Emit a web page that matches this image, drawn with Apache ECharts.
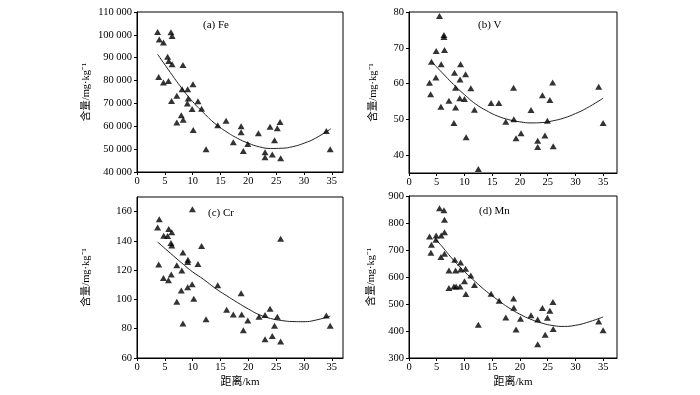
<!DOCTYPE html>
<html>
<head>
<meta charset="utf-8">
<script src="https://cdn.jsdelivr.net/npm/echarts@6/dist/echarts.min.js"></script>
<style>
html,body{margin:0;padding:0;background:#fff;}
#c{width:700px;height:395px;}
</style>
</head>
<body>
<div id="c"></div>
<script>
// ---- data ----
const xTicks = [0, 5, 10, 15, 20, 25, 30, 35];
const feTicks = [40000, 50000, 60000, 70000, 80000, 90000, 100000, 110000];
const vTicks = [40, 50, 60, 70, 80];
const crTicks = [60, 80, 100, 120, 140, 160];
const mnTicks = [300, 400, 500, 600, 700, 800, 900];

const panelLabels = ['(a) Fe', '(b) V', '(c) Cr', '(d) Mn'];
const yName = '含量/mg·kg⁻¹';
const xName = '距离/km';

const feX = [3.7,4.0,4.75,6.1,6.3,5.5,5.7,6.3,8.25,3.9,4.75,5.65,8.1,9.1,10.05,7.15,9.2,9.05,10.95,6.2,9.9,11.6,7.95,8.3,7.15,10.1,12.4,14.5,16.0,17.3,18.7,18.7,19.1,19.9,21.8,23.0,23.0,23.9,24.3,24.7,25.2,25.7,25.8,34.0,34.7];
const feY = [101250,98000,96700,101100,99500,90400,88600,87100,86800,81600,79200,79800,76200,76200,78400,73400,72200,70000,70900,71100,67600,67700,64800,62900,61700,58400,50000,60400,62400,53000,60000,57400,49200,52250,57000,48600,46400,59800,47700,53900,59100,61900,46000,57900,50000];
const feCurveX = [3.7,6,8,10,12,14,16,18,20,22,24,26,28,30,32,34.8];
const feCurveY = [91500,83500,76800,70800,65800,61200,57700,54800,52600,51000,50300,50400,51100,52600,54700,58900];

const vX = [5.5,6.3,6.3,4.9,6.4,4.05,5.8,9.3,8.2,10.2,4.85,9.2,3.7,8.4,11.15,3.9,7.2,9.15,10.0,5.75,8.4,11.8,14.8,16.2,8.1,17.45,18.9,18.85,10.3,19.3,12.5,20.2,22.0,23.2,23.2,24.05,24.5,24.95,25.4,25.9,26.0,34.2,35.0];
const vY = [78.9,73.6,73.0,69.1,69.4,66.1,65.4,65.4,63.0,62.6,61.7,61.1,60.2,58.8,58.7,57.0,55.2,55.9,55.7,53.5,53.3,52.7,54.6,54.6,49.0,49.3,50.0,58.8,45.0,44.7,36.1,46.1,52.6,44.0,42.3,56.7,45.5,49.6,55.4,60.3,42.5,59.1,49.0];
const vCurveX = [4.05,6,8,10,12,14,16,18,20,22,24,26,28,30,32,35];
const vCurveY = [66.1,63.0,59.8,56.9,54.3,52.4,50.9,49.9,49.3,49.0,49.1,49.6,50.4,51.6,53.1,55.9];

const crX = [9.95,4.0,3.7,5.7,6.25,4.8,5.5,6.1,6.25,11.6,8.25,9.15,9.1,3.9,7.15,10.95,8.05,6.15,4.75,5.65,9.9,14.5,9.1,7.95,10.2,18.7,7.15,16.1,17.3,18.8,23.9,23.0,21.9,25.2,19.9,12.4,8.25,24.7,19.1,24.3,23.0,25.8,25.8,34.0,34.7];
const crY = [161.6,154.8,149.1,148.2,146.0,143.5,143.3,138.5,136.9,136.5,132.1,127.2,125.6,123.8,123.3,124.2,119.7,117.0,114.7,113.1,110.4,109.7,108.3,106.1,100.4,104.2,98.4,93.0,89.8,89.8,93.6,89.3,88.2,88.2,85.7,86.4,83.6,82.1,78.9,75.0,72.8,71.2,141.4,89.1,82.1];
const crCurveX = [3.7,6,8,10,12,14,16,18,20,22,24,26,28,30,32,34.7];
const crCurveY = [139.2,131.6,125.0,118.8,113.6,107.8,102.8,98.0,93.5,89.5,87.0,85.6,84.9,84.8,85.8,88.6];

const mnX = [5.5,6.3,6.4,3.7,4.9,5.8,6.4,4.05,4.85,3.95,5.75,6.4,8.25,9.3,10.2,7.2,8.4,9.3,11.15,10.0,11.8,7.2,8.1,8.5,9.2,10.25,14.8,16.25,18.85,18.9,17.45,12.5,19.3,20.1,22.0,23.2,23.2,24.05,24.55,24.95,25.4,25.95,26.0,34.2,35.0];
const mnY = [855,847,812,750,754,754,766,719,738,690,674,686,664,654,631,624,624,628,606,584,570,559,565,565,565,537,538,512,520,486,450,423,406,445,458,443,351,485,386,449,475,507,407,435,403];
const mnCurveX = [4.85,6,8,10,12,14,16,18,20,22,24,26,28,30,32,35];
const mnCurveY = [738,712,663,620,582,546,515,486,462,443,429,420,417,421,431,452];

// ---- chart ----
const pair = (xs, ys) => xs.map((x, i) => [x, ys[i]]);
const serif = '"Liberation Serif", "Times New Roman", serif';
const nameFont = '"Liberation Serif", "Noto Sans CJK SC", serif';
const fmt = v => String(v).replace(/\B(?=(\d{3})+(?!\d))/g, ' ');

const grids = [
  {left: 137, top: 12, width: 206, height: 160},
  {left: 409, top: 12, width: 208, height: 161},
  {left: 137, top: 197, width: 206, height: 161},
  {left: 409, top: 196, width: 208, height: 162}
];
const xMax = [37, 37.5, 37, 37.5];
const yCfg = [
  {min: 40000, max: 110000, ticks: feTicks, gap: 46},
  {min: 35, max: 80, ticks: vTicks, gap: 31},
  {min: 60, max: 170, ticks: crTicks, gap: 46},
  {min: 300, max: 900, ticks: mnTicks, gap: 33}
];
const pts = [pair(feX, feY), pair(vX, vY), pair(crX, crY), pair(mnX, mnY)];
const curves = [pair(feCurveX, feCurveY), pair(vCurveX, vCurveY), pair(crCurveX, crCurveY), pair(mnCurveX, mnCurveY)];
const labelPos = [[203, 20], [478, 20], [208, 208], [479, 206]];

const axisLineStyle = {show: true, lineStyle: {color: '#000', width: 1}};
const option = {
  animation: false,
  backgroundColor: '#fff',
  grid: grids.map(g => Object.assign({show: true, borderColor: '#000', borderWidth: 1, backgroundColor: 'transparent'}, g)),
  xAxis: grids.map((g, i) => ({
    type: 'value', gridIndex: i, min: 0, max: xMax[i],
    axisLine: axisLineStyle,
    axisTick: {show: true, inside: false, length: 3, customValues: xTicks, lineStyle: {color: '#000'}},
    axisLabel: {customValues: xTicks, margin: 4, color: '#000', fontFamily: serif, fontSize: 10.5},
    splitLine: {show: false},
    name: i >= 2 ? xName : '',
    nameLocation: 'middle', nameGap: 19,
    nameTextStyle: {color: '#000', fontFamily: nameFont, fontSize: 11}
  })),
  yAxis: yCfg.map((c, i) => ({
    type: 'value', gridIndex: i, min: c.min, max: c.max,
    axisLine: axisLineStyle,
    axisTick: {show: true, inside: false, length: 3, customValues: c.ticks, lineStyle: {color: '#000'}},
    axisLabel: {customValues: c.ticks, margin: 5, color: '#000', fontFamily: serif, fontSize: 10.5, formatter: fmt},
    splitLine: {show: false},
    name: yName, nameLocation: 'middle', nameGap: c.gap, nameRotate: 90,
    nameTextStyle: {color: '#000', fontFamily: nameFont, fontSize: 10.5}
  })),
  title: labelPos.map((p, i) => ({
    text: panelLabels[i], left: p[0], top: p[1], padding: 0,
    textStyle: {color: '#000', fontFamily: serif, fontSize: 11, fontWeight: 'normal'}
  })),
  series: [].concat(
    curves.map((d, i) => ({
      type: 'line', xAxisIndex: i, yAxisIndex: i, data: d, smooth: true,
      showSymbol: false, symbol: 'none', z: 2,
      lineStyle: {color: '#222', width: 1}
    })),
    pts.map((d, i) => ({
      type: 'scatter', xAxisIndex: i, yAxisIndex: i, data: d,
      symbol: 'triangle', symbolSize: [7, 6], z: 3,
      itemStyle: {color: '#000'}
    }))
  )
};
const chart = echarts.init(document.getElementById('c'), null, {renderer: 'canvas'});
chart.setOption(option);
</script>
</body>
</html>
